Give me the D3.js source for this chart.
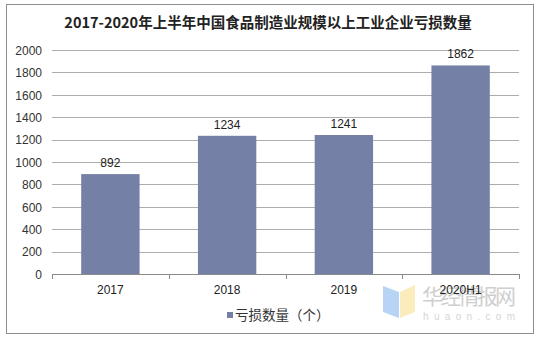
<!DOCTYPE html>
<html>
<head>
<meta charset="utf-8">
<script src="https://cdn.jsdelivr.net/npm/d3@7"></script>
<style>
  html, body { margin: 0; padding: 0; background: #fff; }
  svg { display: block; }
</style>
</head>
<body>
<svg id="chart" width="539" height="339"></svg>
<script>
// Loss-making enterprises in China's food manufacturing industry (above designated size)
const years = ["2017", "2018", "2019", "2020H1"];
const lossCounts = [892, 1234, 1241, 1862];
const yTicks = [0, 200, 400, 600, 800, 1000, 1200, 1400, 1600, 1800, 2000];
const titleText = "2017-2020年上半年中国食品制造业规模以上工业企业亏损数量";
const legendText = "亏损数量（个）";

const svg = d3.select("#chart");
const font = "Arial, 'Liberation Sans', 'Noto Sans CJK SC', sans-serif";
const cjk = "'Noto Sans CJK SC', sans-serif";
const barColor = "#7480A6";
const gridColor = "#ADADAD";

// outer frame
svg.append("rect")
  .attr("x", 6.5).attr("y", 4.5)
  .attr("width", 527).attr("height", 329)
  .attr("fill", "#fff").attr("stroke", "#8E8E8E").attr("stroke-width", 1);

// title
svg.append("text")
  .attr("x", 268).attr("y", 28)
  .attr("text-anchor", "middle")
  .attr("font-family", cjk)
  .attr("font-weight", "bold")
  .attr("font-size", 14.5)
  .attr("fill", "#222")
  .text(titleText);

const x = d3.scaleBand().domain(years).range([52, 519]).paddingInner(0.5).paddingOuter(0.25);
const y = d3.scaleLinear().domain([0, 2000]).range([274, 50]);

// horizontal gridlines
svg.append("g")
  .selectAll("line")
  .data(yTicks)
  .join("line")
  .attr("x1", 52).attr("x2", 519)
  .attr("y1", d => Math.round(y(d)) + 0.5)
  .attr("y2", d => Math.round(y(d)) + 0.5)
  .attr("stroke", gridColor).attr("stroke-width", 1);

// y-axis labels
const yAxis = d3.axisLeft(y).tickValues(yTicks).tickFormat(d3.format("d")).tickSize(0).tickPadding(10);
const yg = svg.append("g").attr("transform", "translate(52,0.5)").call(yAxis);
yg.select(".domain").remove();
yg.selectAll("text")
  .attr("font-family", font).attr("font-size", 12).attr("fill", "#333");

// bars
svg.append("g")
  .selectAll("rect")
  .data(lossCounts)
  .join("rect")
  .attr("x", (d, i) => x(years[i]))
  .attr("width", x.bandwidth())
  .attr("y", d => y(d))
  .attr("height", d => y(0) - y(d))
  .attr("fill", barColor);

// value labels
svg.append("g")
  .selectAll("text")
  .data(lossCounts)
  .join("text")
  .attr("x", (d, i) => x(years[i]) + x.bandwidth() / 2)
  .attr("y", d => y(d) - 7)
  .attr("text-anchor", "middle")
  .attr("font-family", font).attr("font-size", 12).attr("fill", "#222")
  .text(d => d);

// x axis baseline with category boundary ticks
const boundaries = d3.range(years.length + 1).map(i => 52 + i * (467 / years.length));
svg.append("line")
  .attr("x1", 52).attr("x2", 519)
  .attr("y1", 274.5).attr("y2", 274.5)
  .attr("stroke", "#8A8A8A");
svg.append("g")
  .selectAll("line")
  .data(boundaries)
  .join("line")
  .attr("x1", d => Math.round(d) + 0.5).attr("x2", d => Math.round(d) + 0.5)
  .attr("y1", 274).attr("y2", 279)
  .attr("stroke", "#8A8A8A");

// watermark logo
const wm = svg.append("g").attr("opacity", 0.55);
wm.append("path")
  .attr("d", "M383,286 L399,292 L399,318 L383,312 Z")
  .attr("fill", "#7FB2EE");
wm.append("path")
  .attr("d", "M400,292 L415,285 L415,312 L400,318 Z")
  .attr("fill", "#F8DF84");
wm.append("text")
  .attr("x", 422).attr("y", 304)
  .attr("font-family", cjk)
  .attr("font-size", 21).attr("fill", "#A8A8A8")
  .attr("textLength", 94)
  .text("华经情报网");
wm.append("text")
  .attr("x", 423).attr("y", 320)
  .attr("font-family", font)
  .attr("font-size", 10).attr("fill", "#B4B4B4")
  .attr("textLength", 92)
  .text("huaon.com");

// category labels
svg.append("g")
  .selectAll("text")
  .data(years)
  .join("text")
  .attr("x", d => x(d) + x.bandwidth() / 2)
  .attr("y", 294)
  .attr("text-anchor", "middle")
  .attr("font-family", font).attr("font-size", 12).attr("fill", "#222")
  .text(d => d);

// legend
svg.append("rect")
  .attr("x", 227).attr("y", 312)
  .attr("width", 6).attr("height", 6)
  .attr("fill", barColor);
svg.append("text")
  .attr("x", 235).attr("y", 320)
  .attr("font-family", cjk)
  .attr("font-size", 13.5).attr("fill", "#333")
  .text(legendText);
</script>
</body>
</html>
